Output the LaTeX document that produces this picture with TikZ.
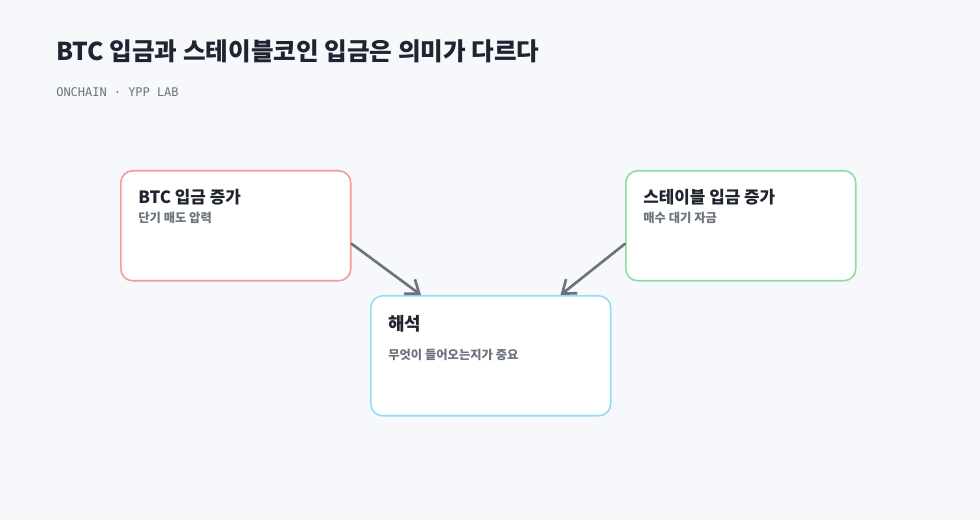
\documentclass[tikz,border=0pt]{standalone}
\usepackage{fontspec}
\setmainfont{Noto Sans CJK KR}
\newfontfamily\monofont{DejaVu Sans Mono}
\usetikzlibrary{arrows.meta}

\definecolor{pagebg}{HTML}{F7F8FC}
\definecolor{inkdark}{HTML}{1F2430}
\definecolor{inkgray}{HTML}{6B7280}
\definecolor{btcred}{HTML}{F49B9B}
\definecolor{stablegreen}{HTML}{8EDDA2}
\definecolor{readblue}{HTML}{93DDF5}

\tikzset{
  card/.style={draw, fill=white, line width=0.9pt, rounded corners=0.24cm,
    minimum width=4.6cm, minimum height=2.2cm, anchor=north west, inner sep=0pt},
  cardtitle/.style={anchor=base west, inner sep=0pt, text=inkdark,
    font=\fontsize{9.6}{11}\selectfont\bfseries},
  cardnote/.style={anchor=base west, inner sep=0pt, text=inkgray,
    font=\fontsize{7}{8}\selectfont\bfseries},
  flow/.style={draw=inkgray, line width=1.5pt, line cap=round,
    -{Straight Barb[length=0.24cm, width=0.36cm, line width=1.5pt]}}
}

\begin{document}
\begin{tikzpicture}[x=0.02cm, y=-0.02cm]
\useasboundingbox[fill=pagebg] (0,0) rectangle (980,520);

% heading
\node[anchor=base west, inner sep=0pt, text=inkdark,
  font=\fontsize{14}{17}\selectfont\bfseries] (heading) at (56,61)
  {BTC 입금과 스테이블코인 입금은 의미가 다르다};
\node[anchor=base west, inner sep=0pt, text=inkgray,
  font=\monofont\fontsize{6.8}{8}\selectfont] (byline) at (56,97)
  {ONCHAIN · YPP LAB};

% cards
\node[card, draw=btcred] (btc) at (120,170) {};
\node[cardtitle] (btctitle) at (138,204) {BTC 입금 증가};
\node[cardnote] (btcnote) at (138,223) {단기 매도 압력};

\node[card, draw=stablegreen] (stable) at (625,170) {};
\node[cardtitle] (stabletitle) at (643,204) {스테이블 입금 증가};
\node[cardnote] (stablenote) at (643,223) {매수 대기 자금};

\node[card, draw=readblue, minimum width=4.8cm, minimum height=2.4cm] (interp) at (370,295) {};
\node[cardtitle, font=\fontsize{10.2}{12}\selectfont\bfseries] (interptitle) at (388,330) {해석};
\node[cardnote] (interpnote) at (388,359) {무엇이 들어오는지가 중요};

% arrows
\draw[flow] ([yshift=-0.36cm]btc.east) -- ([xshift=1.02cm]interp.north west);
\draw[flow] ([yshift=-0.36cm]stable.west) -- ([xshift=-1.02cm]interp.north east);

\end{tikzpicture}
\end{document}
